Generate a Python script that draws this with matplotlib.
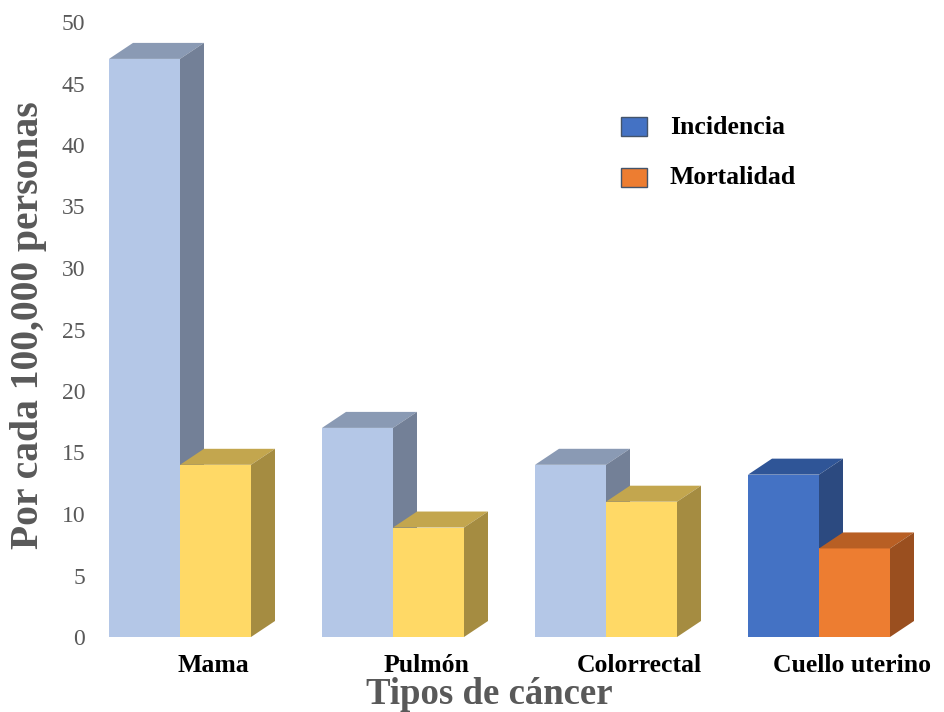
import matplotlib
matplotlib.use("Agg")
import matplotlib.pyplot as plt
from matplotlib.patches import Polygon, Rectangle

categories = ["Mama", "Pulmón", "Colorrectal", "Cuello uterino"]
incidencia = [47.0, 17.0, 14.0, 13.2]
mortalidad = [14.0, 8.9, 11.0, 7.2]
series_names = ["Incidencia", "Mortalidad"]
yticks = [0, 5, 10, 15, 20, 25, 30, 35, 40, 45, 50]

# (front, top, side) colours per group for each series
inc_colors = [("#B4C7E7", "#8A9AB4", "#738097")] * 3 + [("#4472C4", "#2F5597", "#2C4A80")]
mor_colors = [("#FFD966", "#C3A64E", "#A58C41")] * 3 + [("#ED7D31", "#B85F24", "#9A4F1F")]

W, H = 944, 712
fig = plt.figure(figsize=(W / 100, H / 100), dpi=100)

ax_left, ax_right = 95, 944
ax_top, ax_bottom = 22, 637
ax = fig.add_axes([ax_left / W, (H - ax_bottom) / H,
                   (ax_right - ax_left) / W, (ax_bottom - ax_top) / H])

group_px = 213.0
unit_px = (ax_bottom - ax_top) / 50.0
x0 = -(180 - ax_left) / group_px
ax.set_xlim(x0, x0 + (ax_right - ax_left) / group_px)
ax.set_ylim(0, 50)

bw = 71 / group_px
dx = 24 / group_px
dy = 16 / unit_px


def bar3d(x, h, cols):
    front, top, side = cols
    ax.add_patch(Polygon([(x, 0), (x + bw, 0), (x + bw, h), (x, h)],
                         closed=True, facecolor=front, edgecolor="none", zorder=3))
    ax.add_patch(Polygon([(x, h), (x + bw, h), (x + bw + dx, h + dy), (x + dx, h + dy)],
                         closed=True, facecolor=top, edgecolor="none", zorder=3))
    ax.add_patch(Polygon([(x + bw, 0), (x + bw + dx, dy), (x + bw + dx, h + dy), (x + bw, h)],
                         closed=True, facecolor=side, edgecolor="none", zorder=3))


# incidence bars first so their side faces sit behind the mortality bars
for i in range(len(categories)):
    bar3d(i - bw, incidencia[i], inc_colors[i])
for i in range(len(categories)):
    bar3d(i, mortalidad[i], mor_colors[i])

for s in ax.spines.values():
    s.set_visible(False)

serif = "Liberation Serif"
ax.set_yticks(yticks)
ax.set_yticklabels([str(t) for t in yticks], fontfamily=serif, fontsize=17, color="#595959")
ax.tick_params(axis="y", length=0, pad=7)

ax.set_xticks([i + 0.155 for i in range(len(categories))])
ax.set_xticklabels(categories, fontfamily=serif, fontsize=18.5, fontweight="bold", color="black")
ax.tick_params(axis="x", length=0, pad=12)

fig.text(29 / W, 1 - 325 / H, "Por cada 100,000 personas", rotation=90,
         ha="center", va="center", fontfamily=serif, fontsize=28.5,
         fontweight="bold", color="#595959")
fig.text(489 / W, 1 - 694 / H, "Tipos de cáncer", ha="center", va="center",
         fontfamily=serif, fontsize=26.5, fontweight="bold", color="#595959")

# legend
legend_items = [(series_names[0], "#4472C4", 126), (series_names[1], "#ED7D31", 177)]
for name, col, yc in legend_items:
    fig.patches.append(Rectangle((621 / W, 1 - (yc + 10) / H), 26 / W, 19 / H,
                                 transform=fig.transFigure, facecolor=col,
                                 edgecolor="#44546A", linewidth=1.0))
    fig.text(670 / W, 1 - (yc + 1) / H, name, ha="left", va="center",
             fontfamily=serif, fontsize=18.5, fontweight="bold", color="black")

fig.savefig("out.png", dpi=100)
